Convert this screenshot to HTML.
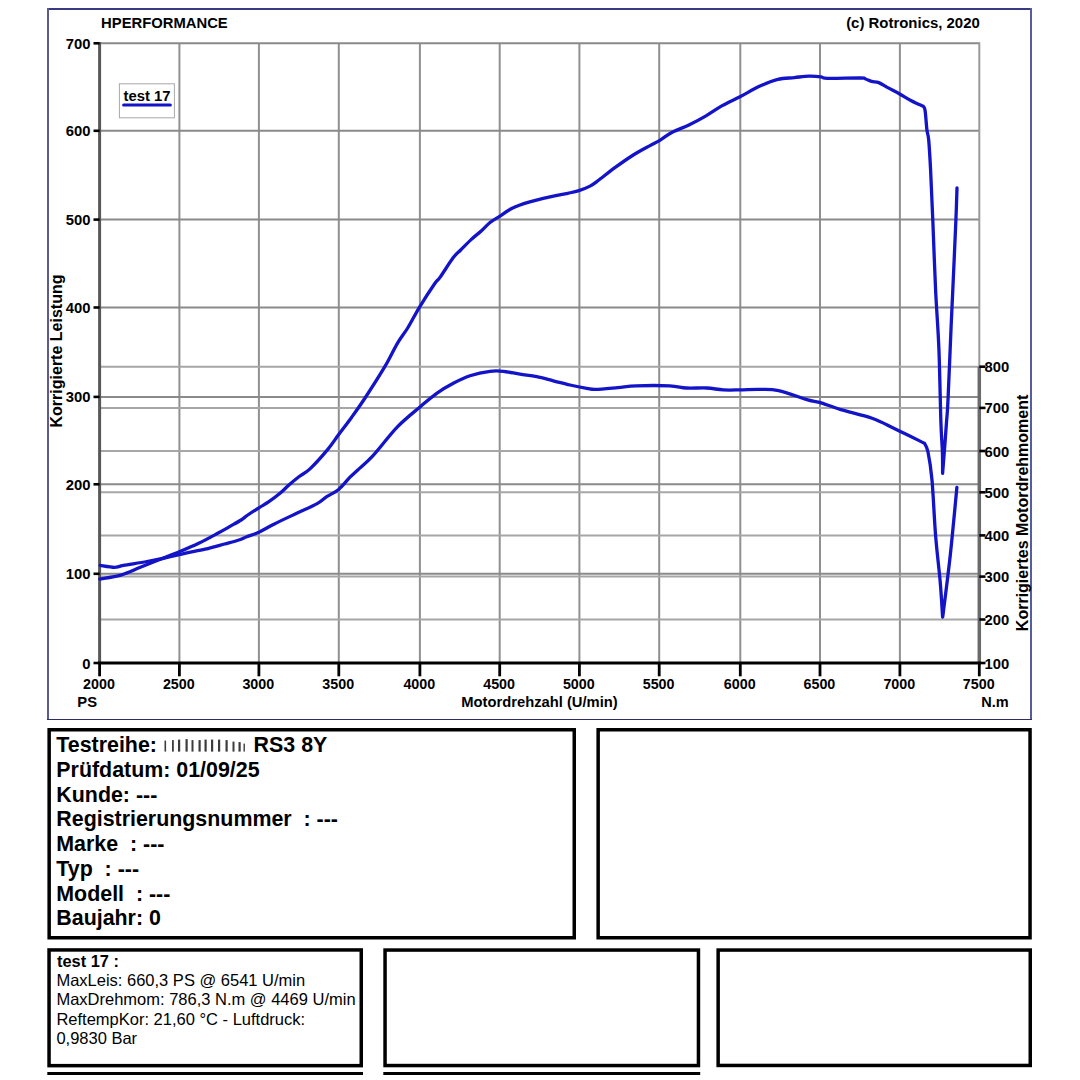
<!DOCTYPE html>
<html><head><meta charset="utf-8"><style>
html,body{margin:0;padding:0;background:#fff;width:1080px;height:1080px;overflow:hidden}
svg{position:absolute;left:0;top:0;font-family:"Liberation Sans",sans-serif}
</style></head><body>
<svg width="1080" height="1080" viewBox="0 0 1080 1080" fill="#000">
<line x1="179.4" y1="43.3" x2="179.4" y2="663" stroke="#909090" stroke-width="2"/>
<line x1="258.9" y1="43.3" x2="258.9" y2="663" stroke="#909090" stroke-width="2"/>
<line x1="338.8" y1="43.3" x2="338.8" y2="663" stroke="#909090" stroke-width="2"/>
<line x1="419.9" y1="43.3" x2="419.9" y2="663" stroke="#909090" stroke-width="2"/>
<line x1="499.7" y1="43.3" x2="499.7" y2="663" stroke="#909090" stroke-width="2"/>
<line x1="579.4" y1="43.3" x2="579.4" y2="663" stroke="#909090" stroke-width="2"/>
<line x1="659.2" y1="43.3" x2="659.2" y2="663" stroke="#909090" stroke-width="2"/>
<line x1="740.3" y1="43.3" x2="740.3" y2="663" stroke="#909090" stroke-width="2"/>
<line x1="820" y1="43.3" x2="820" y2="663" stroke="#909090" stroke-width="2"/>
<line x1="899.9" y1="43.3" x2="899.9" y2="663" stroke="#909090" stroke-width="2"/>
<line x1="99.6" y1="366.7" x2="979.3" y2="366.7" stroke="#a6a6a6" stroke-width="2"/>
<line x1="99.6" y1="407.9" x2="979.3" y2="407.9" stroke="#a6a6a6" stroke-width="2"/>
<line x1="99.6" y1="451" x2="979.3" y2="451" stroke="#a6a6a6" stroke-width="2"/>
<line x1="99.6" y1="492.3" x2="979.3" y2="492.3" stroke="#a6a6a6" stroke-width="2"/>
<line x1="99.6" y1="535.4" x2="979.3" y2="535.4" stroke="#a6a6a6" stroke-width="2"/>
<line x1="99.6" y1="576.6" x2="979.3" y2="576.6" stroke="#a6a6a6" stroke-width="2"/>
<line x1="99.6" y1="619.5" x2="979.3" y2="619.5" stroke="#a6a6a6" stroke-width="2"/>
<line x1="99.6" y1="43.3" x2="979.3" y2="43.3" stroke="#8a8a8a" stroke-width="2"/>
<line x1="99.6" y1="130.8" x2="979.3" y2="130.8" stroke="#8a8a8a" stroke-width="2"/>
<line x1="99.6" y1="219.6" x2="979.3" y2="219.6" stroke="#8a8a8a" stroke-width="2"/>
<line x1="99.6" y1="307.5" x2="979.3" y2="307.5" stroke="#8a8a8a" stroke-width="2"/>
<line x1="99.6" y1="396.9" x2="979.3" y2="396.9" stroke="#8a8a8a" stroke-width="2"/>
<line x1="99.6" y1="484.3" x2="979.3" y2="484.3" stroke="#8a8a8a" stroke-width="2"/>
<line x1="99.6" y1="573.8" x2="979.3" y2="573.8" stroke="#8a8a8a" stroke-width="2"/>
<line x1="979.3" y1="42.3" x2="979.3" y2="366.7" stroke="#9a9a9a" stroke-width="2"/>
<line x1="979.3" y1="366.7" x2="979.3" y2="663" stroke="#6a6a6a" stroke-width="3.5"/>
<line x1="99.6" y1="42" x2="99.6" y2="663" stroke="#585858" stroke-width="3"/>
<line x1="93.5" y1="43.3" x2="99.6" y2="43.3" stroke="#000" stroke-width="2.6"/>
<line x1="93.5" y1="130.8" x2="99.6" y2="130.8" stroke="#000" stroke-width="2.6"/>
<line x1="93.5" y1="219.6" x2="99.6" y2="219.6" stroke="#000" stroke-width="2.6"/>
<line x1="93.5" y1="307.5" x2="99.6" y2="307.5" stroke="#000" stroke-width="2.6"/>
<line x1="93.5" y1="396.9" x2="99.6" y2="396.9" stroke="#000" stroke-width="2.6"/>
<line x1="93.5" y1="484.3" x2="99.6" y2="484.3" stroke="#000" stroke-width="2.6"/>
<line x1="93.5" y1="573.8" x2="99.6" y2="573.8" stroke="#000" stroke-width="2.6"/>
<line x1="93.5" y1="663" x2="99.6" y2="663" stroke="#000" stroke-width="2.6"/>
<line x1="979.3" y1="366.7" x2="985.5" y2="366.7" stroke="#000" stroke-width="2.6"/>
<line x1="979.3" y1="407.9" x2="985.5" y2="407.9" stroke="#000" stroke-width="2.6"/>
<line x1="979.3" y1="451" x2="985.5" y2="451" stroke="#000" stroke-width="2.6"/>
<line x1="979.3" y1="492.3" x2="985.5" y2="492.3" stroke="#000" stroke-width="2.6"/>
<line x1="979.3" y1="535.4" x2="985.5" y2="535.4" stroke="#000" stroke-width="2.6"/>
<line x1="979.3" y1="576.6" x2="985.5" y2="576.6" stroke="#000" stroke-width="2.6"/>
<line x1="979.3" y1="619.5" x2="985.5" y2="619.5" stroke="#000" stroke-width="2.6"/>
<line x1="979.3" y1="663" x2="985.5" y2="663" stroke="#000" stroke-width="2.6"/>
<line x1="98" y1="663" x2="981" y2="663" stroke="#000" stroke-width="3.2"/>
<line x1="99.6" y1="663" x2="99.6" y2="676.3" stroke="#000" stroke-width="2.8"/>
<line x1="179.4" y1="663" x2="179.4" y2="676.3" stroke="#000" stroke-width="2.8"/>
<line x1="258.9" y1="663" x2="258.9" y2="676.3" stroke="#000" stroke-width="2.8"/>
<line x1="338.8" y1="663" x2="338.8" y2="676.3" stroke="#000" stroke-width="2.8"/>
<line x1="419.9" y1="663" x2="419.9" y2="676.3" stroke="#000" stroke-width="2.8"/>
<line x1="499.7" y1="663" x2="499.7" y2="676.3" stroke="#000" stroke-width="2.8"/>
<line x1="579.4" y1="663" x2="579.4" y2="676.3" stroke="#000" stroke-width="2.8"/>
<line x1="659.2" y1="663" x2="659.2" y2="676.3" stroke="#000" stroke-width="2.8"/>
<line x1="740.3" y1="663" x2="740.3" y2="676.3" stroke="#000" stroke-width="2.8"/>
<line x1="820" y1="663" x2="820" y2="676.3" stroke="#000" stroke-width="2.8"/>
<line x1="899.9" y1="663" x2="899.9" y2="676.3" stroke="#000" stroke-width="2.8"/>
<line x1="979.3" y1="663" x2="979.3" y2="676.3" stroke="#000" stroke-width="2.8"/>
<path d="M99.8,579 C103.32,578.35 114.13,577.05 120.9,575.1 C127.67,573.15 133.92,569.9 140.4,567.3 C146.88,564.7 153.32,562.08 159.8,559.5 C166.28,556.92 172.82,554.5 179.3,551.8 C185.78,549.1 192.22,546.43 198.7,543.3 C205.18,540.17 212.98,535.82 218.2,533 C223.42,530.18 226.18,528.57 230,526.4 C233.82,524.23 238.13,521.9 241.1,520 C244.07,518.1 244.83,517.03 247.8,515 C250.77,512.97 255.38,510.02 258.9,507.8 C262.42,505.58 265.38,504.12 268.9,501.7 C272.42,499.28 276.67,496.08 280,493.3 C283.33,490.52 285.75,487.77 288.9,485 C292.05,482.23 295.38,479.38 298.9,476.7 C302.42,474.02 305.18,473.45 310,468.9 C314.82,464.35 323.05,455.08 327.8,449.4 C332.55,443.72 334.52,440.17 338.5,434.8 C342.48,429.43 347.17,423.5 351.7,417.2 C356.23,410.9 360.13,405.5 365.7,397 C371.27,388.5 379.82,375.15 385.1,366.2 C390.38,357.25 393.58,349.75 397.4,343.3 C401.22,336.85 404.33,333.5 408,327.5 C411.67,321.5 414.93,314.63 419.4,307.3 C423.87,299.97 431.37,288.48 434.8,283.5 C438.23,278.52 436.92,281.72 440,277.4 C443.08,273.08 449.85,262.17 453.3,257.6 C456.75,253.03 457.73,253 460.7,250 C463.67,247 467.63,242.82 471.1,239.6 C474.57,236.38 478.35,233.55 481.5,230.7 C484.65,227.85 486.92,224.93 490,222.5 C493.08,220.07 496.3,218.47 500,216.1 C503.7,213.73 507.38,210.62 512.2,208.3 C517.02,205.98 522.6,204.1 528.9,202.2 C535.2,200.3 543.52,198.38 550,196.9 C556.48,195.42 562.98,194.35 567.8,193.3 C572.62,192.25 575.2,191.8 578.9,190.6 C582.6,189.4 586.67,187.87 590,186.1 C593.33,184.33 594.63,183.15 598.9,180 C603.17,176.85 609.87,171.37 615.6,167.2 C621.33,163.03 627.57,158.6 633.3,155 C639.03,151.4 645.65,148 650,145.6 C654.35,143.2 655.7,142.83 659.4,140.6 C663.1,138.37 667.28,134.8 672.2,132.2 C677.12,129.6 683.33,127.68 688.9,125 C694.47,122.32 700.05,119.33 705.6,116.1 C711.15,112.87 716.47,108.83 722.2,105.6 C727.93,102.37 733.7,99.95 740,96.7 C746.3,93.45 753.7,88.98 760,86.1 C766.3,83.22 772.07,80.82 777.8,79.4 C783.53,77.98 789.22,78.15 794.4,77.6 C799.58,77.05 804.47,76.23 808.9,76.1 C813.33,75.97 817.98,76.43 821,76.8 C824.02,77.17 820.38,78.1 827,78.3 C833.62,78.5 854.28,77.88 860.7,78 C867.12,78.12 863.68,78.43 865.5,79 C867.32,79.57 869.38,80.8 871.6,81.4 C873.82,82 876.2,81.6 878.8,82.6 C881.4,83.6 883.8,85.55 887.2,87.4 C890.6,89.25 895.18,91.48 899.2,93.7 C903.22,95.92 907.28,98.6 911.3,100.7 C915.32,102.8 921.3,105.37 923.3,106.3 C923.6,107 924.5,106.58 925.1,110.5 C925.7,114.42 926.3,124.88 926.9,129.8 C927.5,134.72 928.08,133.3 928.7,140 C929.32,146.7 929.92,156.67 930.6,170 C931.28,183.33 931.97,200 932.8,220 C933.63,240 934.58,268.52 935.6,290 C936.62,311.48 938.02,326.87 938.9,348.9 C939.78,370.93 940.32,405.03 940.9,422.2 C941.48,439.37 942.12,443.38 942.4,451.9 C942.68,460.42 942.57,469.73 942.6,473.3 C942.93,469.08 943.95,456.52 944.6,448 C945.25,439.48 945.93,430.2 946.5,422.2 C947.07,414.2 947.23,415.92 948,400 C948.77,384.08 950.3,345.03 951.1,326.7 C951.9,308.37 952,307.78 952.8,290 C953.6,272.22 955.2,237.03 955.9,220 C956.6,202.97 956.82,193.17 957,187.8" fill="none" stroke="#1313c8" stroke-width="3.3" stroke-linejoin="round" stroke-linecap="round"/>
<path d="M100.2,565.4 C102.57,565.72 110.52,567.3 114.4,567.3 C118.28,567.3 118.08,566.37 123.5,565.4 C128.92,564.43 139.77,562.8 146.9,561.5 C154.03,560.2 159.83,559 166.3,557.6 C172.77,556.2 179.22,554.5 185.7,553.1 C192.18,551.7 198.72,550.72 205.2,549.2 C211.68,547.68 218.98,545.53 224.6,544 C230.22,542.47 235.22,541.22 238.9,540 C242.58,538.78 243.37,538 246.7,536.7 C250.03,535.4 254.28,534.33 258.9,532.2 C263.52,530.07 268.1,527.05 274.4,523.9 C280.7,520.75 289.65,516.63 296.7,513.3 C303.75,509.97 311.7,506.67 316.7,503.9 C321.7,501.13 323.03,499.12 326.7,496.7 C330.37,494.28 334.82,492.65 338.7,489.4 C342.58,486.15 346.82,480.43 350,477.2 C353.18,473.97 354,473.55 357.8,470 C361.6,466.45 366.2,463.08 372.8,455.9 C379.4,448.72 389.48,435.1 397.4,426.9 C405.32,418.7 413.75,412.3 420.3,406.7 C426.85,401.1 431.2,397.2 436.7,393.3 C442.2,389.4 447.75,386.22 453.3,383.3 C458.85,380.38 463.88,377.8 470,375.8 C476.12,373.8 484.45,372.05 490,371.3 C495.55,370.55 498.3,370.82 503.3,371.3 C508.3,371.78 514.43,373.3 520,374.2 C525.57,375.1 531.15,375.6 536.7,376.7 C542.25,377.8 547.75,379.42 553.3,380.8 C558.85,382.18 564.43,383.75 570,385 C575.57,386.25 582.43,387.57 586.7,388.3 C590.97,389.03 590.42,389.52 595.6,389.4 C600.78,389.28 611.02,388.2 617.8,387.6 C624.58,387 627.67,386.1 636.3,385.8 C644.93,385.5 661.27,385.43 669.6,385.8 C677.93,386.17 680.12,387.63 686.3,388 C692.48,388.37 700.53,387.68 706.7,388 C712.87,388.32 717.75,389.58 723.3,389.9 C728.85,390.22 734.02,389.98 740,389.9 C745.98,389.82 752.77,389.28 759.2,389.4 C765.63,389.52 770.5,388.85 778.6,390.6 C786.7,392.35 800.98,397.93 807.8,399.9 C814.62,401.87 814,400.78 819.5,402.4 C825,404.02 832.05,406.95 840.8,409.6 C849.55,412.25 862.92,415.07 872,418.3 C881.08,421.53 886.57,424.85 895.3,429 C904.03,433.15 919.55,440.83 924.4,443.2 C925,444.67 926.73,445.87 928,452 C929.27,458.13 930.73,466.07 932,480 C933.27,493.93 934.23,518.62 935.6,535.6 C936.97,552.58 939.03,568.33 940.2,581.9 C941.37,595.47 942.2,611.15 942.6,617 C942.77,615.83 942.3,620.5 943.6,610 C944.9,599.5 948.18,574.43 950.4,554 C952.62,533.57 955.82,498.5 956.9,487.4" fill="none" stroke="#1313c8" stroke-width="3.3" stroke-linejoin="round" stroke-linecap="round"/>
<rect x="119.4" y="83.8" width="55" height="34" fill="#fff" stroke="#a8a8a8" stroke-width="1"/>
<text x="123.6" y="101.4" font-size="14.8" font-weight="bold">test 17</text>
<line x1="123.6" y1="105" x2="170.4" y2="105" stroke="#1313c8" stroke-width="3" stroke-linecap="round"/>
<line x1="47" y1="9" x2="1032" y2="9" stroke="#3a3a80" stroke-width="2"/>
<line x1="48" y1="8" x2="48" y2="720" stroke="#5c5c8c" stroke-width="2"/>
<line x1="1031" y1="8" x2="1031" y2="720" stroke="#5a5a9c" stroke-width="2"/>
<line x1="47" y1="719.5" x2="1032" y2="719.5" stroke="#2e2e5e" stroke-width="1.2"/>
<text x="101.1" y="27.9" font-size="14.8" font-weight="bold">HPERFORMANCE</text>
<text x="979.8" y="28.2" font-size="14.95" font-weight="bold" text-anchor="end">(c) Rotronics, 2020</text>
<text x="90.4" y="48.8" font-size="14.8" font-weight="bold" text-anchor="end">700</text>
<text x="90.4" y="136.3" font-size="14.8" font-weight="bold" text-anchor="end">600</text>
<text x="90.4" y="225.1" font-size="14.8" font-weight="bold" text-anchor="end">500</text>
<text x="90.4" y="313" font-size="14.8" font-weight="bold" text-anchor="end">400</text>
<text x="90.4" y="402.4" font-size="14.8" font-weight="bold" text-anchor="end">300</text>
<text x="90.4" y="489.8" font-size="14.8" font-weight="bold" text-anchor="end">200</text>
<text x="90.4" y="579.3" font-size="14.8" font-weight="bold" text-anchor="end">100</text>
<text x="90.4" y="668.5" font-size="14.8" font-weight="bold" text-anchor="end">0</text>
<text x="984.6" y="372.2" font-size="14.8" font-weight="bold">800</text>
<text x="984.6" y="413.4" font-size="14.8" font-weight="bold">700</text>
<text x="984.6" y="456.5" font-size="14.8" font-weight="bold">600</text>
<text x="984.6" y="497.8" font-size="14.8" font-weight="bold">500</text>
<text x="984.6" y="540.9" font-size="14.8" font-weight="bold">400</text>
<text x="984.6" y="582.1" font-size="14.8" font-weight="bold">300</text>
<text x="984.6" y="625" font-size="14.8" font-weight="bold">200</text>
<text x="984.6" y="668.5" font-size="14.8" font-weight="bold">100</text>
<text x="99" y="689.4" font-size="14.3" font-weight="bold" text-anchor="middle">2000</text>
<text x="178.8" y="689.4" font-size="14.3" font-weight="bold" text-anchor="middle">2500</text>
<text x="258.3" y="689.4" font-size="14.3" font-weight="bold" text-anchor="middle">3000</text>
<text x="338.2" y="689.4" font-size="14.3" font-weight="bold" text-anchor="middle">3500</text>
<text x="419.3" y="689.4" font-size="14.3" font-weight="bold" text-anchor="middle">4000</text>
<text x="499.1" y="689.4" font-size="14.3" font-weight="bold" text-anchor="middle">4500</text>
<text x="578.8" y="689.4" font-size="14.3" font-weight="bold" text-anchor="middle">5000</text>
<text x="658.6" y="689.4" font-size="14.3" font-weight="bold" text-anchor="middle">5500</text>
<text x="739.7" y="689.4" font-size="14.3" font-weight="bold" text-anchor="middle">6000</text>
<text x="819.4" y="689.4" font-size="14.3" font-weight="bold" text-anchor="middle">6500</text>
<text x="899.3" y="689.4" font-size="14.3" font-weight="bold" text-anchor="middle">7000</text>
<text x="978.7" y="689.4" font-size="14.3" font-weight="bold" text-anchor="middle">7500</text>
<text x="77.3" y="706.7" font-size="14.8" font-weight="bold">PS</text>
<text x="539.5" y="706.9" font-size="14.75" font-weight="bold" text-anchor="middle">Motordrehzahl (U/min)</text>
<text x="981.2" y="706.9" font-size="14.5" font-weight="bold">N.m</text>
<text transform="translate(61.9,351) rotate(-90)" font-size="16" font-weight="bold" text-anchor="middle">Korrigierte Leistung</text>
<text transform="translate(1028.1,512.9) rotate(-90)" font-size="16" font-weight="bold" text-anchor="middle">Korrigiertes Motordrehmoment</text>
<rect x="49.15" y="729.75" width="525.1" height="208" fill="none" stroke="#000" stroke-width="3.5"/>
<rect x="598.15" y="729.75" width="431.9" height="208" fill="none" stroke="#000" stroke-width="3.5"/>
<rect x="49.05" y="949.95" width="312.2" height="115.7" fill="none" stroke="#000" stroke-width="3.5"/>
<rect x="385.05" y="950.05" width="313.4" height="115.5" fill="none" stroke="#000" stroke-width="3.5"/>
<rect x="718.15" y="950.05" width="312.1" height="115.4" fill="none" stroke="#000" stroke-width="3.5"/>
<rect x="47.3" y="1072" width="315.7" height="3" fill="#000"/>
<rect x="383.3" y="1072" width="316.9" height="3" fill="#000"/>
<text x="56.3" y="752.1" font-size="21.4" font-weight="bold" xml:space="preserve">Testreihe:</text>
<text x="56.3" y="776.85" font-size="21.4" font-weight="bold" xml:space="preserve">Prüfdatum: 01/09/25</text>
<text x="56.3" y="801.6" font-size="21.4" font-weight="bold" xml:space="preserve">Kunde: ---</text>
<text x="56.3" y="826.35" font-size="21.4" font-weight="bold" xml:space="preserve">Registrierungsnummer  : ---</text>
<text x="56.3" y="851.1" font-size="21.4" font-weight="bold" xml:space="preserve">Marke  : ---</text>
<text x="56.3" y="875.85" font-size="21.4" font-weight="bold" xml:space="preserve">Typ  : ---</text>
<text x="56.3" y="900.6" font-size="21.4" font-weight="bold" xml:space="preserve">Modell  : ---</text>
<text x="56.3" y="925.35" font-size="21.4" font-weight="bold" xml:space="preserve">Baujahr: 0</text>
<text x="253.6" y="752.1" font-size="21.4" font-weight="bold">RS3 8Y</text>
<rect x="164.5" y="740.6" width="1.6" height="11" fill="#1a1a1a" opacity="0.85"/>
<rect x="172" y="740.1" width="1.8" height="11.5" fill="#1a1a1a" opacity="0.85"/>
<rect x="178" y="739.6" width="2.2" height="12" fill="#1a1a1a" opacity="0.85"/>
<rect x="185.5" y="739.1" width="2.2" height="12.5" fill="#1a1a1a" opacity="0.85"/>
<rect x="191.5" y="740.1" width="2" height="11.5" fill="#1a1a1a" opacity="0.85"/>
<rect x="198.5" y="740.1" width="2.2" height="11.5" fill="#1a1a1a" opacity="0.85"/>
<rect x="204.5" y="739.6" width="2.2" height="12" fill="#1a1a1a" opacity="0.85"/>
<rect x="211" y="739.6" width="2.2" height="12" fill="#1a1a1a" opacity="0.85"/>
<rect x="218" y="739.6" width="2.2" height="12" fill="#1a1a1a" opacity="0.85"/>
<rect x="225.5" y="740.1" width="2.2" height="11.5" fill="#1a1a1a" opacity="0.85"/>
<rect x="232.5" y="741.6" width="2" height="10" fill="#1a1a1a" opacity="0.85"/>
<rect x="238.5" y="742.1" width="2.2" height="9.5" fill="#1a1a1a" opacity="0.85"/>
<rect x="243.5" y="743.6" width="1.4" height="8" fill="#1a1a1a" opacity="0.85"/>
<text x="57" y="966.9" font-size="16.4" font-weight="bold" xml:space="preserve">test 17 :</text>
<text x="56.4" y="986.2" font-size="16.5" xml:space="preserve">MaxLeis: 660,3 PS @ 6541 U/min</text>
<text x="56.4" y="1005.47" font-size="16.5" xml:space="preserve">MaxDrehmom: 786,3 N.m @ 4469 U/min</text>
<text x="56.4" y="1024.74" font-size="16.5" xml:space="preserve">ReftempKor: 21,60 °C - Luftdruck:</text>
<text x="56.4" y="1044.01" font-size="16.5" xml:space="preserve">0,9830 Bar</text>
</svg>
</body></html>
